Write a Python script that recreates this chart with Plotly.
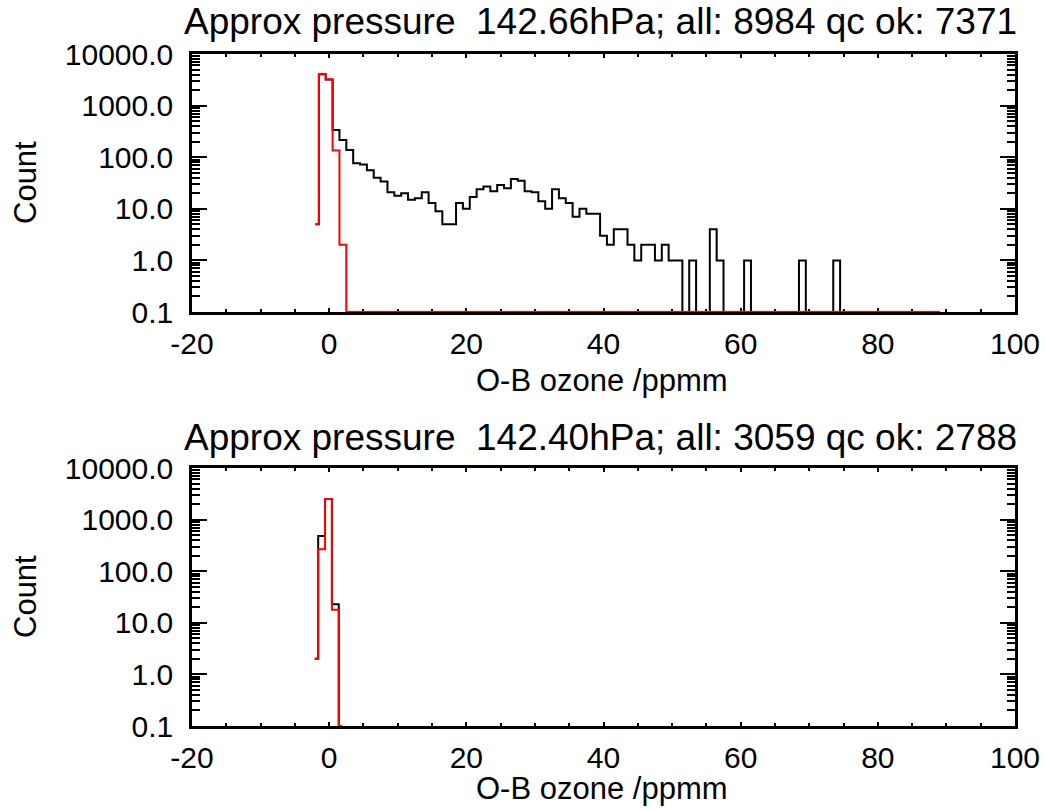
import numpy as np
import plotly.graph_objects as go

# bin centres (O-B ozone, ppmm)
centres_top = list(range(-2, 90))
centres_bot = [-2.1, -1.1, -0.1, 0.9, 1.9]

# top panel counts: all obs (black) and qc ok (red)
all_top = [
    5, 4050, 3200, 337, 215, 138, 76, 72, 56, 40,
    34, 21, 18, 20, 15, 16, 21, 13, 9, 5,
    5, 13, 10, 17, 24, 27, 22, 29, 25, 38,
    35, 22, 21, 14, 10, 24, 16, 13, 7, 10,
    8, 8, 3, 2, 4, 4, 2, 1, 2, 2,
    1, 2, 1, 1, 0, 1, 0, 0, 4, 1,
    0, 0, 0, 1, 0, 0, 0, 0, 0, 0,
    0, 1, 0, 0, 0, 0, 1, 0, 0, 0,
    0, 0, 0, 0, 0, 0, 0, 0, 0, 0,
    0, 0,
]
ok_top = [
    5, 4050, 3200, 135, 2, 0, 0, 0, 0, 0,
    0, 0, 0, 0, 0, 0, 0, 0, 0, 0,
    0, 0, 0, 0, 0, 0, 0, 0, 0, 0,
    0, 0, 0, 0, 0, 0, 0, 0, 0, 0,
    0, 0, 0, 0, 0, 0, 0, 0, 0, 0,
    0, 0, 0, 0, 0, 0, 0, 0, 0, 0,
    0, 0, 0, 0, 0, 0, 0, 0, 0, 0,
    0, 0, 0, 0, 0, 0, 0, 0, 0, 0,
    0, 0, 0, 0, 0, 0, 0, 0, 0, 0,
    0, 0,
]

# bottom panel counts
all_bot = [2, 480, 2500, 23, 0]
ok_bot = [2, 265, 2500, 18, 0]

titles = [
    "Approx pressure \u00a0142.66hPa; all: 8984 qc ok: 7371",
    "Approx pressure \u00a0142.40hPa; all: 3059 qc ok: 2788",
]
xtick_vals = [-20, 0, 20, 40, 60, 80, 100]
xtick_text = ["-20", "0", "20", "40", "60", "80", "100"]
ytick_vals = [0.1, 1, 10, 100, 1000, 10000]
ytick_text = ["0.1", "1.0", "10.0", "100.0", "1000.0", "10000.0"]

FLOOR = 0.1  # empty bins drawn on the bottom of the log axis
W, H = 1045, 809
FONT = "Liberation Sans, Arial, sans-serif"


def floored(vals):
    return [v if v > 0 else FLOOR for v in vals]


def px_x(p):
    return p / W


def px_y(p):
    return 1 - p / H


fig = go.Figure()
panels = [
    (centres_top, all_top, ok_top, "x", "y"),
    (centres_bot, all_bot, ok_bot, "x2", "y2"),
]
for xs, black, red, xa, ya in panels:
    fig.add_trace(go.Scatter(x=xs, y=floored(black), mode="lines", line=dict(color="black", width=2, shape="hvh"),
                             xaxis=xa, yaxis=ya, showlegend=False))
    fig.add_trace(go.Scatter(x=xs, y=floored(red), mode="lines", line=dict(color="#ff0000", width=2, shape="hvh"),
                             xaxis=xa, yaxis=ya, showlegend=False))

xaxis_style = dict(
    range=[-20, 100], tickvals=xtick_vals, ticktext=xtick_text,
    ticks="inside", ticklen=4, tickwidth=2, tickcolor="black",
    minor=dict(ticks="inside", ticklen=3, tickwidth=2, dtick=5, tickcolor="black"),
    showline=True, linecolor="black", linewidth=2.5, mirror="ticks",
    showgrid=False, zeroline=False, layer="below traces", automargin=False,
    tickfont=dict(family=FONT, size=30, color="black"), ticklabelstandoff=3,
)
yaxis_style = dict(
    type="log", range=[-1, 4], tickvals=ytick_vals, ticktext=ytick_text,
    ticks="inside", ticklen=15, tickwidth=2, tickcolor="black",
    minor=dict(ticks="inside", ticklen=8, tickwidth=1.5, dtick="D1", tickcolor="black"),
    showline=True, linecolor="black", linewidth=2.5, mirror="ticks",
    showgrid=False, zeroline=False, layer="below traces", automargin=False,
    tickfont=dict(family=FONT, size=30, color="black"), ticklabelstandoff=10,
)

x_dom = [px_x(192), px_x(1015)]
fig.update_layout(
    width=W, height=H, margin=dict(l=0, r=0, t=0, b=0, autoexpand=False),
    paper_bgcolor="white", plot_bgcolor="white",
    xaxis=dict(domain=x_dom, anchor="y", **xaxis_style),
    yaxis=dict(domain=[px_y(312), px_y(54)], anchor="x", **yaxis_style),
    xaxis2=dict(domain=x_dom, anchor="y2", **xaxis_style),
    yaxis2=dict(domain=[px_y(726), px_y(468)], anchor="x2", **yaxis_style),
)

ann = []
for title, ty, xty, cy in [(titles[0], 22, 380, 183), (titles[1], 437, 788, 597)]:
    ann.append(dict(text=title, x=px_x(600), y=px_y(ty), xref="paper", yref="paper", showarrow=False,
                    xanchor="center", yanchor="middle", font=dict(family=FONT, size=37, color="black")))
    ann.append(dict(text="O-B ozone /ppmm", x=px_x(602), y=px_y(xty), xref="paper", yref="paper", showarrow=False,
                    xanchor="center", yanchor="middle", font=dict(family=FONT, size=31, color="black")))
    ann.append(dict(text="Count", x=px_x(25), y=px_y(cy), xref="paper", yref="paper", showarrow=False,
                    textangle=-90, xanchor="center", yanchor="middle", font=dict(family=FONT, size=31, color="black")))
fig.update_layout(annotations=ann)

# drop the default 8px page margin so the figure sits at the window origin
fig.write_html("out.html", config={"displayModeBar": False},
               post_script="document.body.style.margin='0px';")
